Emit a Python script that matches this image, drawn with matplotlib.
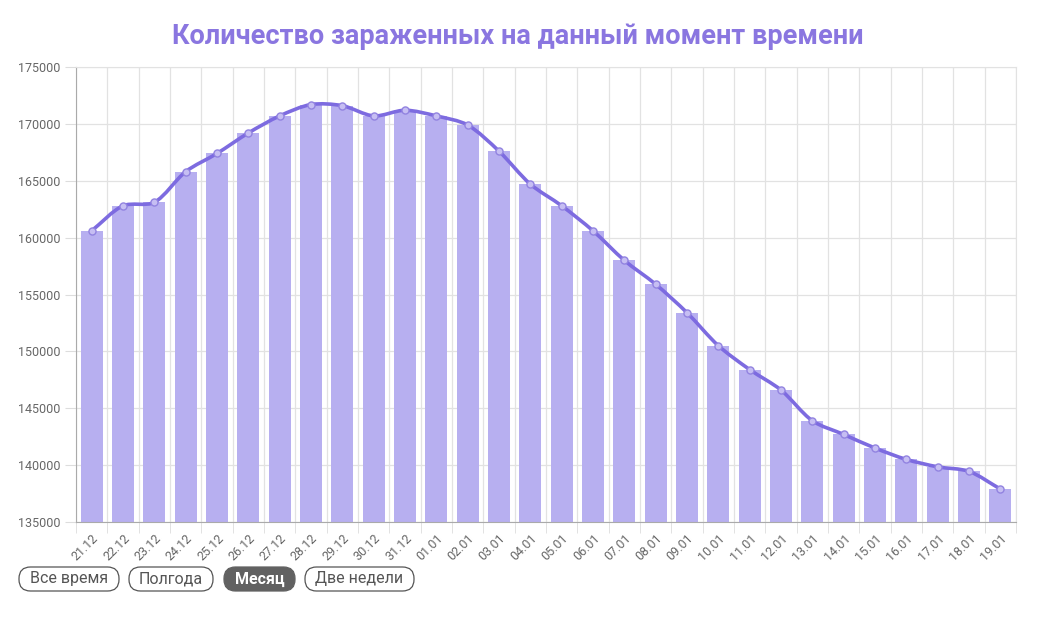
import matplotlib
matplotlib.use("Agg")
import matplotlib.pyplot as plt
from matplotlib.path import Path
from matplotlib.patches import PathPatch, FancyBboxPatch
from matplotlib.transforms import IdentityTransform
import numpy as np

dates = ["21.12", "22.12", "23.12", "24.12", "25.12", "26.12", "27.12", "28.12", "29.12", "30.12",
         "31.12", "01.01", "02.01", "03.01", "04.01", "05.01", "06.01", "07.01", "08.01", "09.01",
         "10.01", "11.01", "12.01", "13.01", "14.01", "15.01", "16.01", "17.01", "18.01", "19.01"]
infected = [160600, 162800, 163100, 165800, 167400, 169200, 170700, 171700, 171600, 170700,
            171200, 170700, 169900, 167600, 164700, 162800, 160600, 158000, 155900, 153400,
            150500, 148400, 146600, 143900, 142700, 141500, 140500, 139850, 139450, 137900]
y_ticks = [135000, 140000, 145000, 150000, 155000, 160000, 165000, 170000, 175000]
title = "Количество зараженных на данный момент времени"
buttons = ["Все время", "Полгода", "Месяц", "Две недели"]
active_button = "Месяц"

plt.rcParams['font.family'] = ['Roboto', 'DejaVu Sans']

W, H = 1050, 617
fig = plt.figure(figsize=(W/100, H/100), dpi=100)
ax = fig.add_axes([76/W, 1-522/H, (1016-76)/W, (522-67)/H])

x = np.arange(len(dates))
ax.bar(x, infected, width=0.7, color="#b7aff0", zorder=2)

# smooth line (Chart.js-like bezier), distances measured in pixel-like units
tension = 0.3
ys = np.array(infected, dtype=float)
yscale = 2750.0
n = len(x)
def ctrl(i):
    p = max(i - 1, 0); q = min(i + 1, n - 1)
    d01 = np.hypot(x[i]-x[p], (ys[i]-ys[p])/yscale)
    d12 = np.hypot(x[q]-x[i], (ys[q]-ys[i])/yscale)
    s = d01 + d12
    fa = tension * d01 / s if s else 0
    fb = tension * d12 / s if s else 0
    prev = (x[i] - fa*(x[q]-x[p]), ys[i] - fa*(ys[q]-ys[p]))
    nxt = (x[i] + fb*(x[q]-x[p]), ys[i] + fb*(ys[q]-ys[p]))
    return prev, nxt
cps = [ctrl(i) for i in range(n)]
verts = [(x[0], ys[0])]
codes = [Path.MOVETO]
for i in range(1, n):
    verts += [cps[i-1][1], cps[i][0], (x[i], ys[i])]
    codes += [Path.CURVE4]*3
ax.add_patch(PathPatch(Path(verts, codes), fill=False, edgecolor="#7d6be0", lw=2.6, zorder=3))
ax.scatter(x, ys, s=26, facecolor="#c6bef3", edgecolor="#9283e0", linewidth=1.0, zorder=4)

ax.set_xlim(-0.5, n - 0.5)
ax.set_ylim(135000, 175000)
ax.set_yticks(y_ticks)
ax.set_yticklabels([str(v) for v in y_ticks], fontsize=9, color="#666666")
ax.set_xticks(x)
ax.set_xticklabels(dates, rotation=45, ha="right", rotation_mode="anchor", fontsize=9, color="#666666")
ax.set_xticks(np.arange(-0.5, n, 1), minor=True)
ax.tick_params(axis="x", which="major", length=0, pad=7)
ax.tick_params(axis="x", which="minor", length=8, color="#dddddd")
ax.tick_params(axis="y", length=8, color="#dddddd", pad=3)
ax.grid(True, axis="y", color="#e2e2e2", lw=0.9, zorder=0)
ax.grid(True, axis="x", which="minor", color="#e2e2e2", lw=0.9, zorder=0)
ax.set_axisbelow(True)
for s in ["top", "right"]:
    ax.spines[s].set_color("#e2e2e2")
ax.spines["left"].set_color("#aaaaaa")
ax.spines["bottom"].set_color("#aaaaaa")

fig.text(518/W, 1-36/H, title, ha="center", va="center", fontsize=19.5,
         fontweight="bold", color="#8a76e0")

# buttons (pixel coordinates)
bx = [19, 129, 224, 305]
bw = [100, 84, 71, 109]
top, bh = 567, 24
for b, left, w in zip(buttons, bx, bw):
    active = b == active_button
    patch = FancyBboxPatch((left, H - top - bh), w, bh,
                           boxstyle="round,pad=0,rounding_size=11.5",
                           transform=IdentityTransform(),
                           facecolor="#616161" if active else "white",
                           edgecolor="#616161" if active else "#555555", lw=0.9)
    fig.patches.append(patch)
    fig.text((left + w/2)/W, 1-(top + bh/2)/H, b, ha="center", va="center", fontsize=11.5,
             color="white" if active else "#555555", fontweight="bold" if active else "normal")

fig.savefig("out.png", dpi=100, facecolor="white")
